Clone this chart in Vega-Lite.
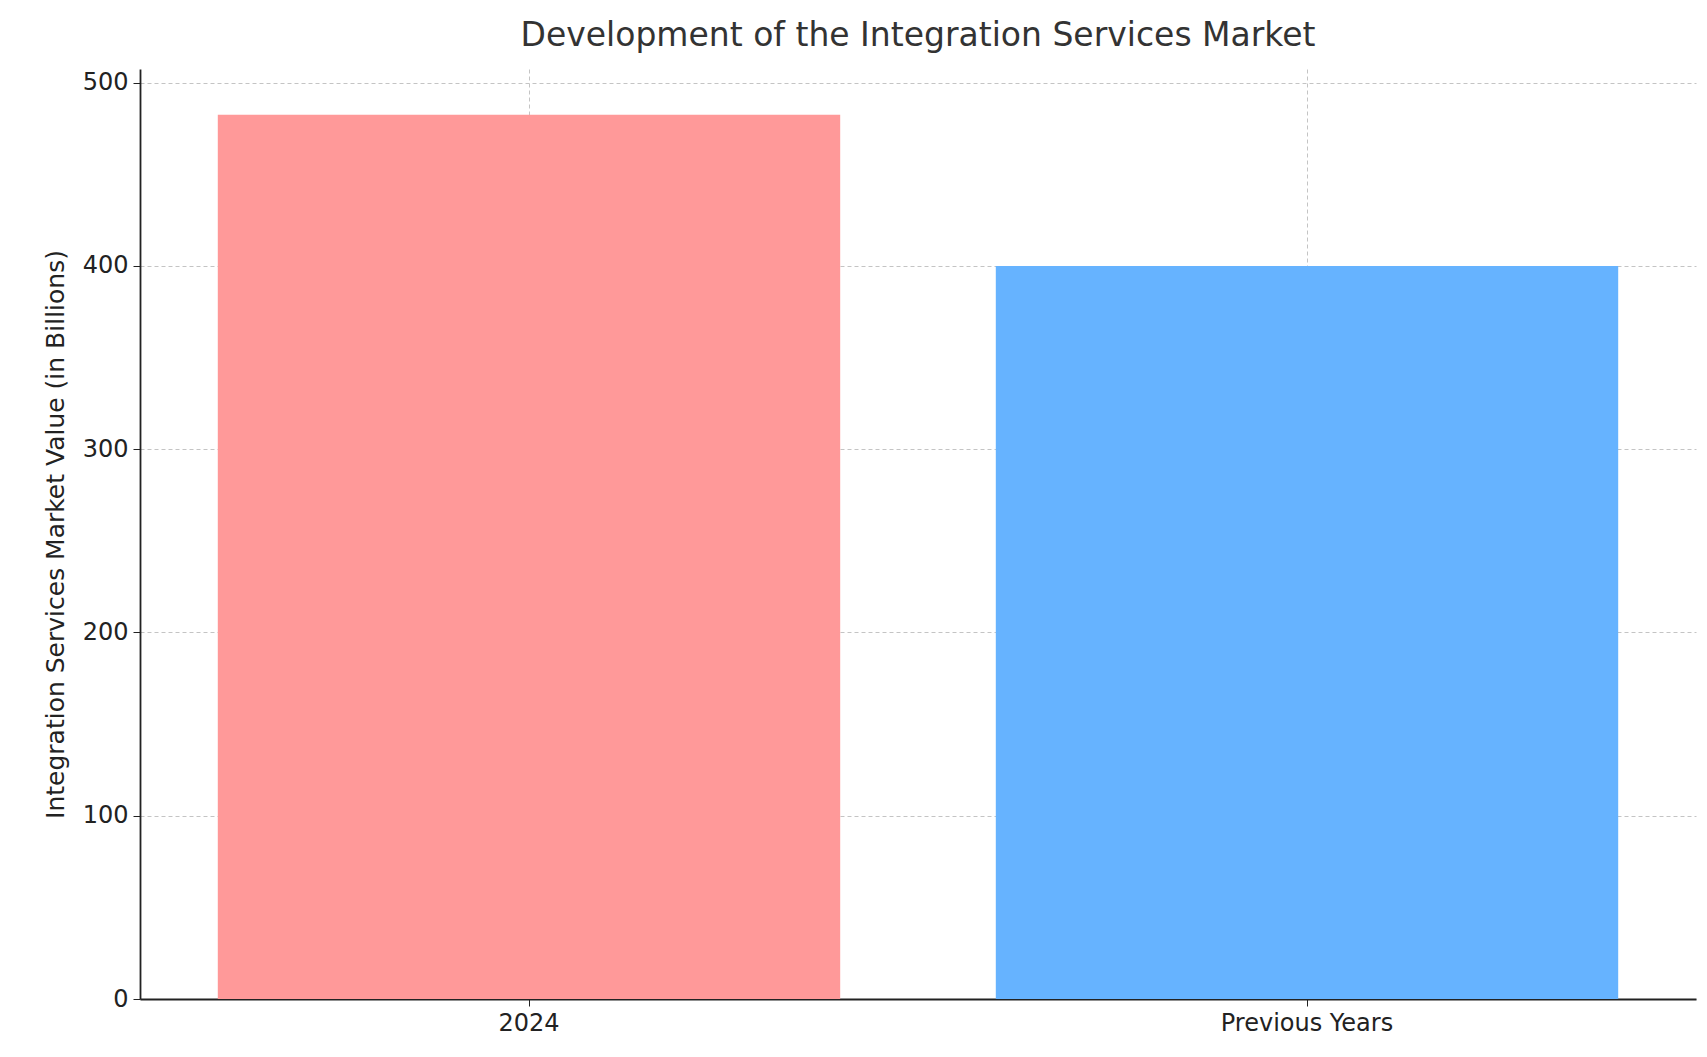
{
  "$schema": "https://vega.github.io/schema/vega-lite/v6.json",
  "width": 1556,
  "height": 930,
  "autosize": {"type": "none"},
  "padding": {"left": 140, "top": 69, "right": 11, "bottom": 58},
  "background": "white",
  "title": {
    "text": "Development of the Integration Services Market",
    "font": "DejaVu Sans",
    "fontSize": 33,
    "fontWeight": "normal",
    "color": "#333333",
    "offset": 16
  },
  "data": {
    "values": [
      {"Period": "2024", "Value": 482.5},
      {"Period": "Previous Years", "Value": 400}
    ]
  },
  "mark": {"type": "bar"},
  "encoding": {
    "x": {
      "field": "Period",
      "type": "nominal",
      "sort": null,
      "title": null,
      "scale": {"paddingInner": 0.2, "paddingOuter": 0.1},
      "axis": {"labelAngle": 0, "grid": true, "gridDash": [4, 3], "gridColor": "#c4c4c4", "bandPosition": 0.5}
    },
    "y": {
      "field": "Value",
      "type": "quantitative",
      "title": "Integration Services Market Value (in Billions)",
      "scale": {"domain": [0, 507.5], "nice": false},
      "axis": {"values": [0, 100, 200, 300, 400, 500], "grid": true, "gridDash": [4, 3], "gridColor": "#c4c4c4", "titlePadding": 14}
    },
    "color": {
      "field": "Period",
      "type": "nominal",
      "scale": {"domain": ["2024", "Previous Years"], "range": ["#ff9999", "#66b3ff"]},
      "legend": null
    }
  },
  "config": {
    "view": {"stroke": null},
    "axis": {
      "zindex": 1,
      "labelFont": "DejaVu Sans",
      "labelFontSize": 24,
      "labelColor": "#222222",
      "titleFont": "DejaVu Sans",
      "titleFontSize": 25,
      "titleFontWeight": "normal",
      "titleColor": "#222222",
      "domainColor": "#222222",
      "domainWidth": 1.8,
      "tickColor": "#222222",
      "tickSize": 7,
      "labelPadding": 5
    }
  }
}
